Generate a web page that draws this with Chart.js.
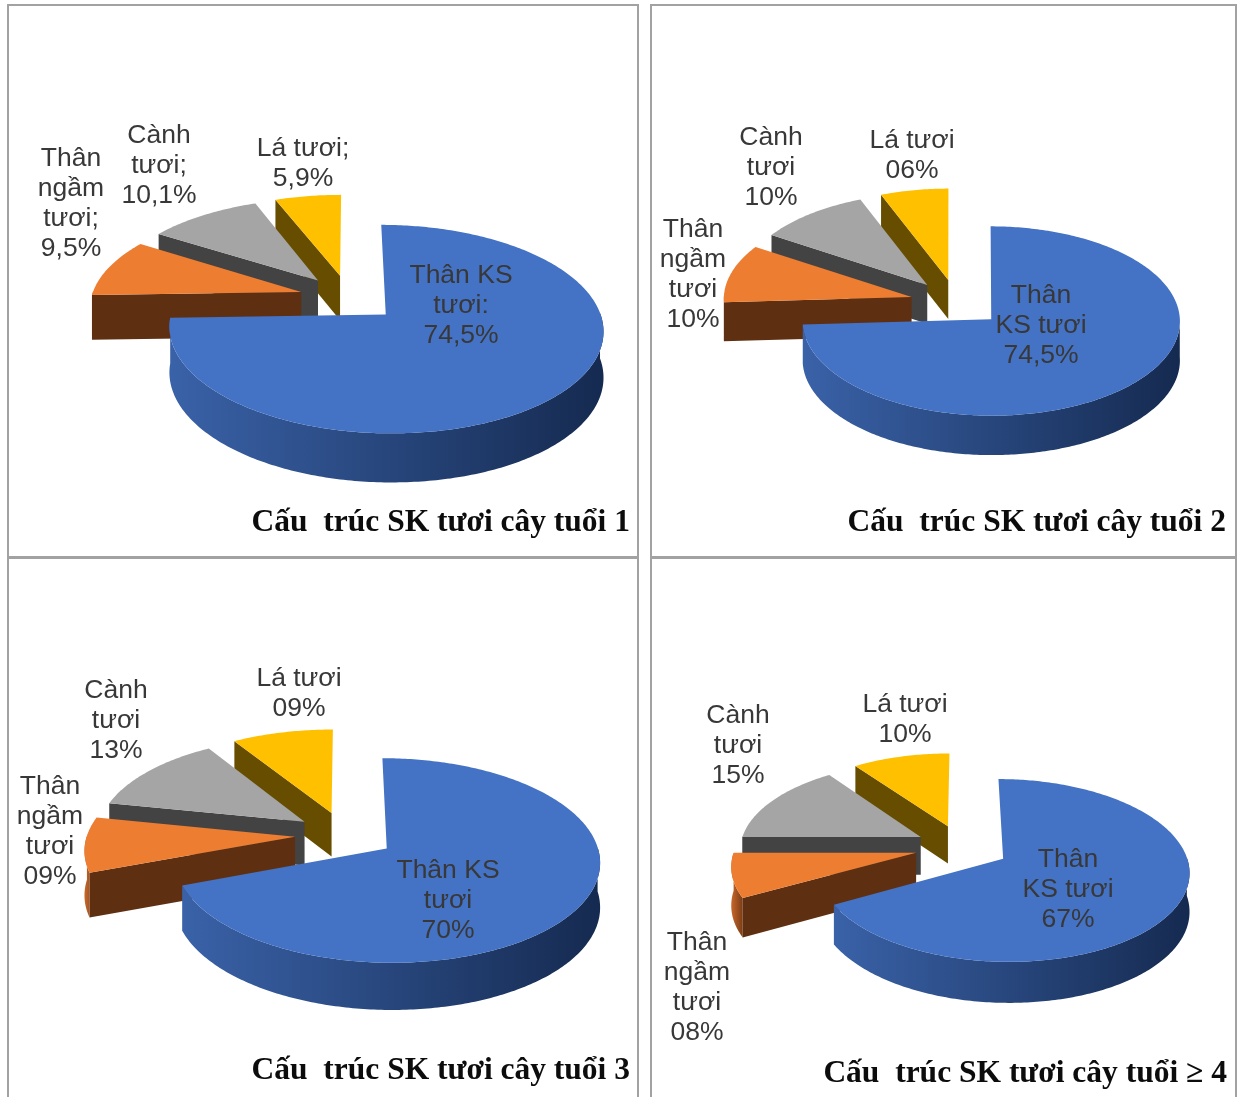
<!DOCTYPE html>
<html lang="vi">
<head>
<meta charset="utf-8">
<title>Cấu trúc SK tươi</title>
<script src="https://cdn.jsdelivr.net/npm/chart.js"></script>
<style>
  html, body { margin: 0; background: #fff; }
  body { position: relative; width: 1240px; height: 1097px; overflow: hidden; }
  .panel { position: absolute; border: 2px solid #a2a2a2; box-sizing: border-box; }
  canvas { position: absolute; left: -1px; top: -1px; }
</style>
</head>
<body>
<div class="panel" style="left:7px;top:4px;width:632px;height:554px"><canvas id="c1"></canvas></div>
<div class="panel" style="left:650px;top:4px;width:587px;height:554px"><canvas id="c2"></canvas></div>
<div class="panel" style="left:7px;top:557px;width:632px;height:550px"><canvas id="c3"></canvas></div>
<div class="panel" style="left:650px;top:557px;width:587px;height:550px"><canvas id="c4"></canvas></div>
<script>
const categories = ['Thân KS tươi', 'Thân ngầm tươi', 'Cành tươi', 'Lá tươi'];
const age1Values = [74.5, 9.5, 10.1, 5.9];
const age2Values = [74.5, 10, 10, 6];
const age3Values = [70, 9, 13, 9];
const age4Values = [67, 8, 15, 10];

const titles = [
  'Cấu  trúc SK tươi cây tuổi 1',
  'Cấu  trúc SK tươi cây tuổi 2',
  'Cấu  trúc SK tươi cây tuổi 3',
  'Cấu  trúc SK tươi cây tuổi ≥ 4'
];

const age1Labels = [['Thân KS', 'tươi:', '74,5%'], ['Thân', 'ngầm', 'tươi;', '9,5%'], ['Cành', 'tươi;', '10,1%'], ['Lá tươi;', '5,9%']];
const age2Labels = [['Thân', 'KS tươi', '74,5%'], ['Thân', 'ngầm', 'tươi', '10%'], ['Cành', 'tươi', '10%'], ['Lá tươi', '06%']];
const age3Labels = [['Thân KS', 'tươi', '70%'], ['Thân', 'ngầm', 'tươi', '09%'], ['Cành', 'tươi', '13%'], ['Lá tươi', '09%']];
const age4Labels = [['Thân', 'KS tươi', '67%'], ['Thân', 'ngầm', 'tươi', '08%'], ['Cành', 'tươi', '15%'], ['Lá tươi', '10%']];

const topColors = ['#4472c4', '#ed7d31', '#a5a5a5', '#ffc000'];
const cutColors = ['#1f3864', '#5f2f12', '#434343', '#664d00'];
const rimColors = [['#3a62a8', '#152a50'], ['#c8672a', '#7a3d15'], ['#6b6b6b', '#434343'], ['#8a6a00', '#664d00']];

// page position of each pie and how it is tilted
const views = [
  { panel: [8, 5, 630, 552], cx: 349, cy: 298, radius: 210, explode: 50, tilt: 0.465, persp: 0.00065, depth: 45, padR: 8, padB: 15 },
  { panel: [651, 5, 585, 552], cx: 957, cy: 303, radius: 188, explode: 47, tilt: 0.5, persp: 0.0001, depth: 39, padR: 10, padB: 15 },
  { panel: [8, 558, 630, 539], cx: 345, cy: 835, radius: 208, explode: 50, tilt: 0.47, persp: 0.00055, depth: 44, padR: 8, padB: 7 },
  { panel: [651, 558, 585, 539], cx: 962, cy: 847, radius: 181, explode: 47, tilt: 0.48, persp: 0.0007, depth: 38, padR: 9, padB: 4 }
];

// label centres in page pixels: middle of each label's first line
const labelSpots = [
  [[461, 276], [71, 159], [159, 136], [303, 149]],
  [[1041, 296], [693, 230], [771, 138], [912, 141]],
  [[448, 871], [50, 787], [116, 691], [299, 679]],
  [[1068, 860], [697, 943], [738, 716], [905, 705]]
];

const LINE_STEP = 30;
const TITLE_SIZE = 31.5;

function projector(el, view) {
  return function (u, v, down) {
    const s = 1 / (1 - view.persp * v);
    return { x: el.x + u * s, y: el.y + v * view.tilt * s + (down ? view.depth * Math.sqrt(s) : 0) };
  };
}

function tracePoints(ctx, pts) {
  ctx.beginPath();
  pts.forEach((p, i) => (i ? ctx.lineTo(p.x, p.y) : ctx.moveTo(p.x, p.y)));
  ctx.closePath();
}

// Tilted, extruded slice built from the arc element's own angles and radius
function drawSlice(ctx, el, index, view) {
  const project = projector(el, view);
  const mid = (el.startAngle + el.endAngle) / 2;
  const off = el.options.offset;
  const ax = Math.cos(mid) * off;
  const ay = Math.sin(mid) * off;
  const steps = Math.max(2, Math.ceil((el.endAngle - el.startAngle) / 0.015));
  const top = [];
  const bottom = [];
  const rimTop = [];
  const rimBottom = [];
  for (let i = 0; i <= steps; i++) {
    const a = el.startAngle + (el.endAngle - el.startAngle) * i / steps;
    const u = ax + Math.cos(a) * el.outerRadius;
    const v = ay + Math.sin(a) * el.outerRadius;
    const t = project(u, v, false);
    const b = project(u, v, true);
    top.push(t);
    bottom.push(b);
    // only the near half of the rim can be seen
    if (Math.sin(a) > -0.02) {
      rimTop.push(t);
      rimBottom.push(b);
    }
  }
  const apexTop = project(ax, ay, false);
  const apexBottom = project(ax, ay, true);

  if (rimTop.length > 1) {
    const xs = top.map(p => p.x);
    const rim = ctx.createLinearGradient(Math.min(...xs), 0, Math.max(...xs), 0);
    rim.addColorStop(0, rimColors[index][0]);
    rim.addColorStop(1, rimColors[index][1]);
    ctx.fillStyle = rim;
    tracePoints(ctx, rimTop.concat(rimBottom.reverse()));
    ctx.fill();
  }

  // cut faces go over the rim, only when they face the viewer
  ctx.fillStyle = cutColors[index];
  if (Math.cos(el.startAngle) < -1e-6) {
    tracePoints(ctx, [apexTop, top[0], bottom[0], apexBottom]);
    ctx.fill();
  }
  if (Math.cos(el.endAngle) > 1e-6) {
    tracePoints(ctx, [apexTop, top[steps], bottom[steps], apexBottom]);
    ctx.fill();
  }

  ctx.fillStyle = el.options.backgroundColor;
  tracePoints(ctx, [apexTop].concat(top));
  ctx.fill();
}

const tiltedPie = {
  id: 'tiltedPie',
  beforeDatasetDraw(chart, args, opts) {
    const arcs = chart.getDatasetMeta(args.index).data;
    const ctx = chart.ctx;
    ctx.save();
    // back slices first, the big front slice last
    for (let i = arcs.length - 1; i >= 0; i--) {
      drawSlice(ctx, arcs[i], i, opts.view);
    }
    ctx.restore();
    return false;
  }
};

const sliceLabels = {
  id: 'sliceLabels',
  afterDraw(chart, args, opts) {
    const ctx = chart.ctx;
    const [px, py] = opts.view.panel;
    ctx.save();
    ctx.font = '26.5px "Liberation Sans"';
    ctx.fillStyle = '#383838';
    ctx.textAlign = 'center';
    ctx.textBaseline = 'middle';
    opts.lines.forEach((lines, i) => {
      const [x, y] = opts.spots[i];
      lines.forEach((line, k) => ctx.fillText(line, x - px, y - py + k * LINE_STEP));
    });
    ctx.restore();
  }
};

function initPie(id, values, lines, index) {
  const view = views[index];
  const [px, py, w, h] = view.panel;
  const canvas = document.getElementById(id);
  canvas.width = w;
  canvas.height = h;
  const titleHeight = TITLE_SIZE * 1.2;
  return new Chart(canvas.getContext('2d'), {
    type: 'pie',
    data: {
      labels: categories,
      datasets: [{
        data: values,
        backgroundColor: topColors,
        borderWidth: 0,
        offset: view.explode,
        radius: view.radius
      }]
    },
    plugins: [tiltedPie, sliceLabels],
    options: {
      responsive: false,
      animation: false,
      radius: view.radius,
      layout: {
        padding: {
          left: 2 * (view.cx - px) - w + view.padR,
          right: view.padR,
          top: 2 * (view.cy - py) - h + view.padB + titleHeight,
          bottom: view.padB
        }
      },
      plugins: {
        legend: { display: false },
        tooltip: { enabled: false },
        title: {
          display: true,
          position: 'bottom',
          align: 'end',
          text: titles[index],
          color: '#0c0c0c',
          padding: 0,
          font: { family: '"Liberation Serif"', size: TITLE_SIZE, weight: 'bold' }
        },
        tiltedPie: { view },
        sliceLabels: { view, lines, spots: labelSpots[index] }
      }
    }
  });
}

initPie('c1', age1Values, age1Labels, 0);
initPie('c2', age2Values, age2Labels, 1);
initPie('c3', age3Values, age3Labels, 2);
initPie('c4', age4Values, age4Labels, 3);
</script>
</body>
</html>
